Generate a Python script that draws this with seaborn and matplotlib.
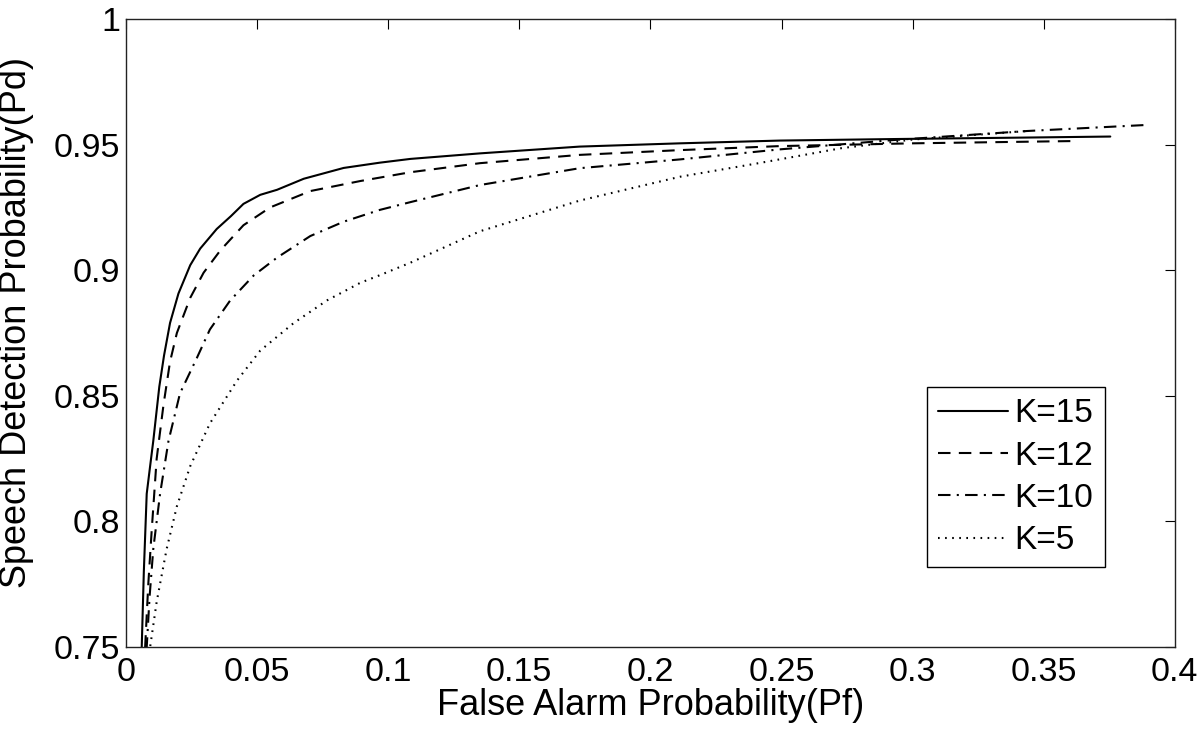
import matplotlib
matplotlib.use("Agg")
import matplotlib.pyplot as plt
import seaborn as sns
import pandas as pd

# ROC-like curves
k15_pf = [0.0055, 0.0060, 0.0068, 0.0079, 0.0092, 0.0104, 0.0127, 0.0145, 0.0168, 0.0200,
          0.0245, 0.0283, 0.0346, 0.0400, 0.0448, 0.0512, 0.0576, 0.0678, 0.0830, 0.0968,
          0.1085, 0.1350, 0.1730, 0.2113, 0.2494, 0.2926, 0.3436, 0.3754]
k15_pd = [0.700, 0.750, 0.780, 0.811, 0.822, 0.832, 0.8536, 0.866, 0.879, 0.8907,
          0.902, 0.9086, 0.9164, 0.9215, 0.9264, 0.930, 0.932, 0.9364, 0.9407, 0.9428,
          0.9443, 0.9465, 0.9492, 0.9505, 0.9516, 0.9522, 0.9528, 0.9532]

k12_pf = [0.0065, 0.0073, 0.0085, 0.0098, 0.0117, 0.0143, 0.0168, 0.0194, 0.0245, 0.0296,
          0.0360, 0.0448, 0.0550, 0.0703, 0.0894, 0.1085, 0.1350, 0.1730, 0.2113, 0.2494,
          0.3000, 0.3610]
k12_pd = [0.700, 0.750, 0.775, 0.7964, 0.825, 0.8464, 0.8636, 0.875, 0.889, 0.899,
          0.9079, 0.9179, 0.925, 0.9315, 0.9355, 0.939, 0.9426, 0.9459, 0.9478, 0.9494,
          0.9505, 0.9514]

k10_pf = [0.0070, 0.0079, 0.0090, 0.0104, 0.0130, 0.0162, 0.0206, 0.0270, 0.0320, 0.0397,
          0.0487, 0.0576, 0.0703, 0.0830, 0.0968, 0.1085, 0.1350, 0.1730, 0.2113, 0.2494,
          0.2926, 0.3436, 0.3890]
k10_pd = [0.700, 0.750, 0.770, 0.789, 0.811, 0.832, 0.851, 0.865, 0.8764, 0.8879,
          0.8979, 0.905, 0.9136, 0.9193, 0.924, 0.9271, 0.9339, 0.9406, 0.9441, 0.9481,
          0.9518, 0.9554, 0.9578]

k5_pf = [0.0080, 0.0092, 0.0117, 0.0155, 0.0194, 0.0245, 0.0320, 0.0423, 0.0512, 0.0640,
         0.0767, 0.0894, 0.0968, 0.1085, 0.1350, 0.1730, 0.2113, 0.2418, 0.2730, 0.3000,
         0.3450]
k5_pd = [0.700, 0.750, 0.768, 0.789, 0.806, 0.822, 0.839, 0.856, 0.868, 0.879,
         0.888, 0.895, 0.898, 0.903, 0.9155, 0.9277, 0.9372, 0.9427, 0.9486, 0.952,
         0.9555]

labels = ["K=15", "K=12", "K=10", "K=5"]
xticks = [0, 0.05, 0.1, 0.15, 0.2, 0.25, 0.3, 0.35, 0.4]
xtick_labels = ["0", "0.05", "0.1", "0.15", "0.2", "0.25", "0.3", "0.35", "0.4"]
yticks = [0.75, 0.8, 0.85, 0.9, 0.95, 1.0]
ytick_labels = ["0.75", "0.8", "0.85", "0.9", "0.95", "1"]

sns.set_style("white")
plt.rcParams["font.family"] = ["Liberation Sans", "DejaVu Sans"]
plt.rcParams["text.color"] = "black"
plt.rcParams["axes.labelcolor"] = "black"

fig = plt.figure(figsize=(12, 7.3), dpi=100)
ax = fig.add_axes([0.105, 0.1137, 0.874, 0.8603])

curves = [(k15_pf, k15_pd), (k12_pf, k12_pd), (k10_pf, k10_pd), (k5_pf, k5_pd)]
styles = ["-", (0, (6, 4)), (0, (6, 3, 1, 3)), (0, (0.8, 2.6))]

for (pf, pd_), lab, ls in zip(curves, labels, styles):
    df = pd.DataFrame({"Pf": pf, "Pd": pd_})
    sns.lineplot(data=df, x="Pf", y="Pd", ax=ax, sort=False, estimator=None,
                 color="black", linewidth=1.5, linestyle=ls, label=lab)

ax.set_xlim(0, 0.4)
ax.set_ylim(0.75, 1.0)
ax.set_xticks(xticks)
ax.set_xticklabels(xtick_labels)
ax.set_yticks(yticks)
ax.set_yticklabels(ytick_labels)
ax.tick_params(direction="in", top=True, right=True, length=7, width=0.8,
               labelsize=24.5, colors="black")
ax.tick_params(axis="x", pad=7)
ax.tick_params(axis="y", pad=4)

for sp in ax.spines.values():
    sp.set_color("#222222")
    sp.set_linewidth(1.0)

ax.set_xlabel("False Alarm Probability(Pf)", fontsize=26, labelpad=0, color="black")
ax.set_ylabel("Speech Detection Probability(Pd)", fontsize=26, color="black")
ax.yaxis.set_label_coords(-0.088, 0.517)

leg = ax.legend(loc="lower right", bbox_to_anchor=(0.933, 0.127), fontsize=24,
                frameon=True, fancybox=False, edgecolor="black", framealpha=1,
                handlelength=2.1, borderaxespad=0, borderpad=0.33,
                labelspacing=0.34, handletextpad=0.2)
leg.get_frame().set_linewidth(1.0)
for t in leg.get_texts():
    t.set_color("black")

fig.savefig("out.png", dpi=100)
